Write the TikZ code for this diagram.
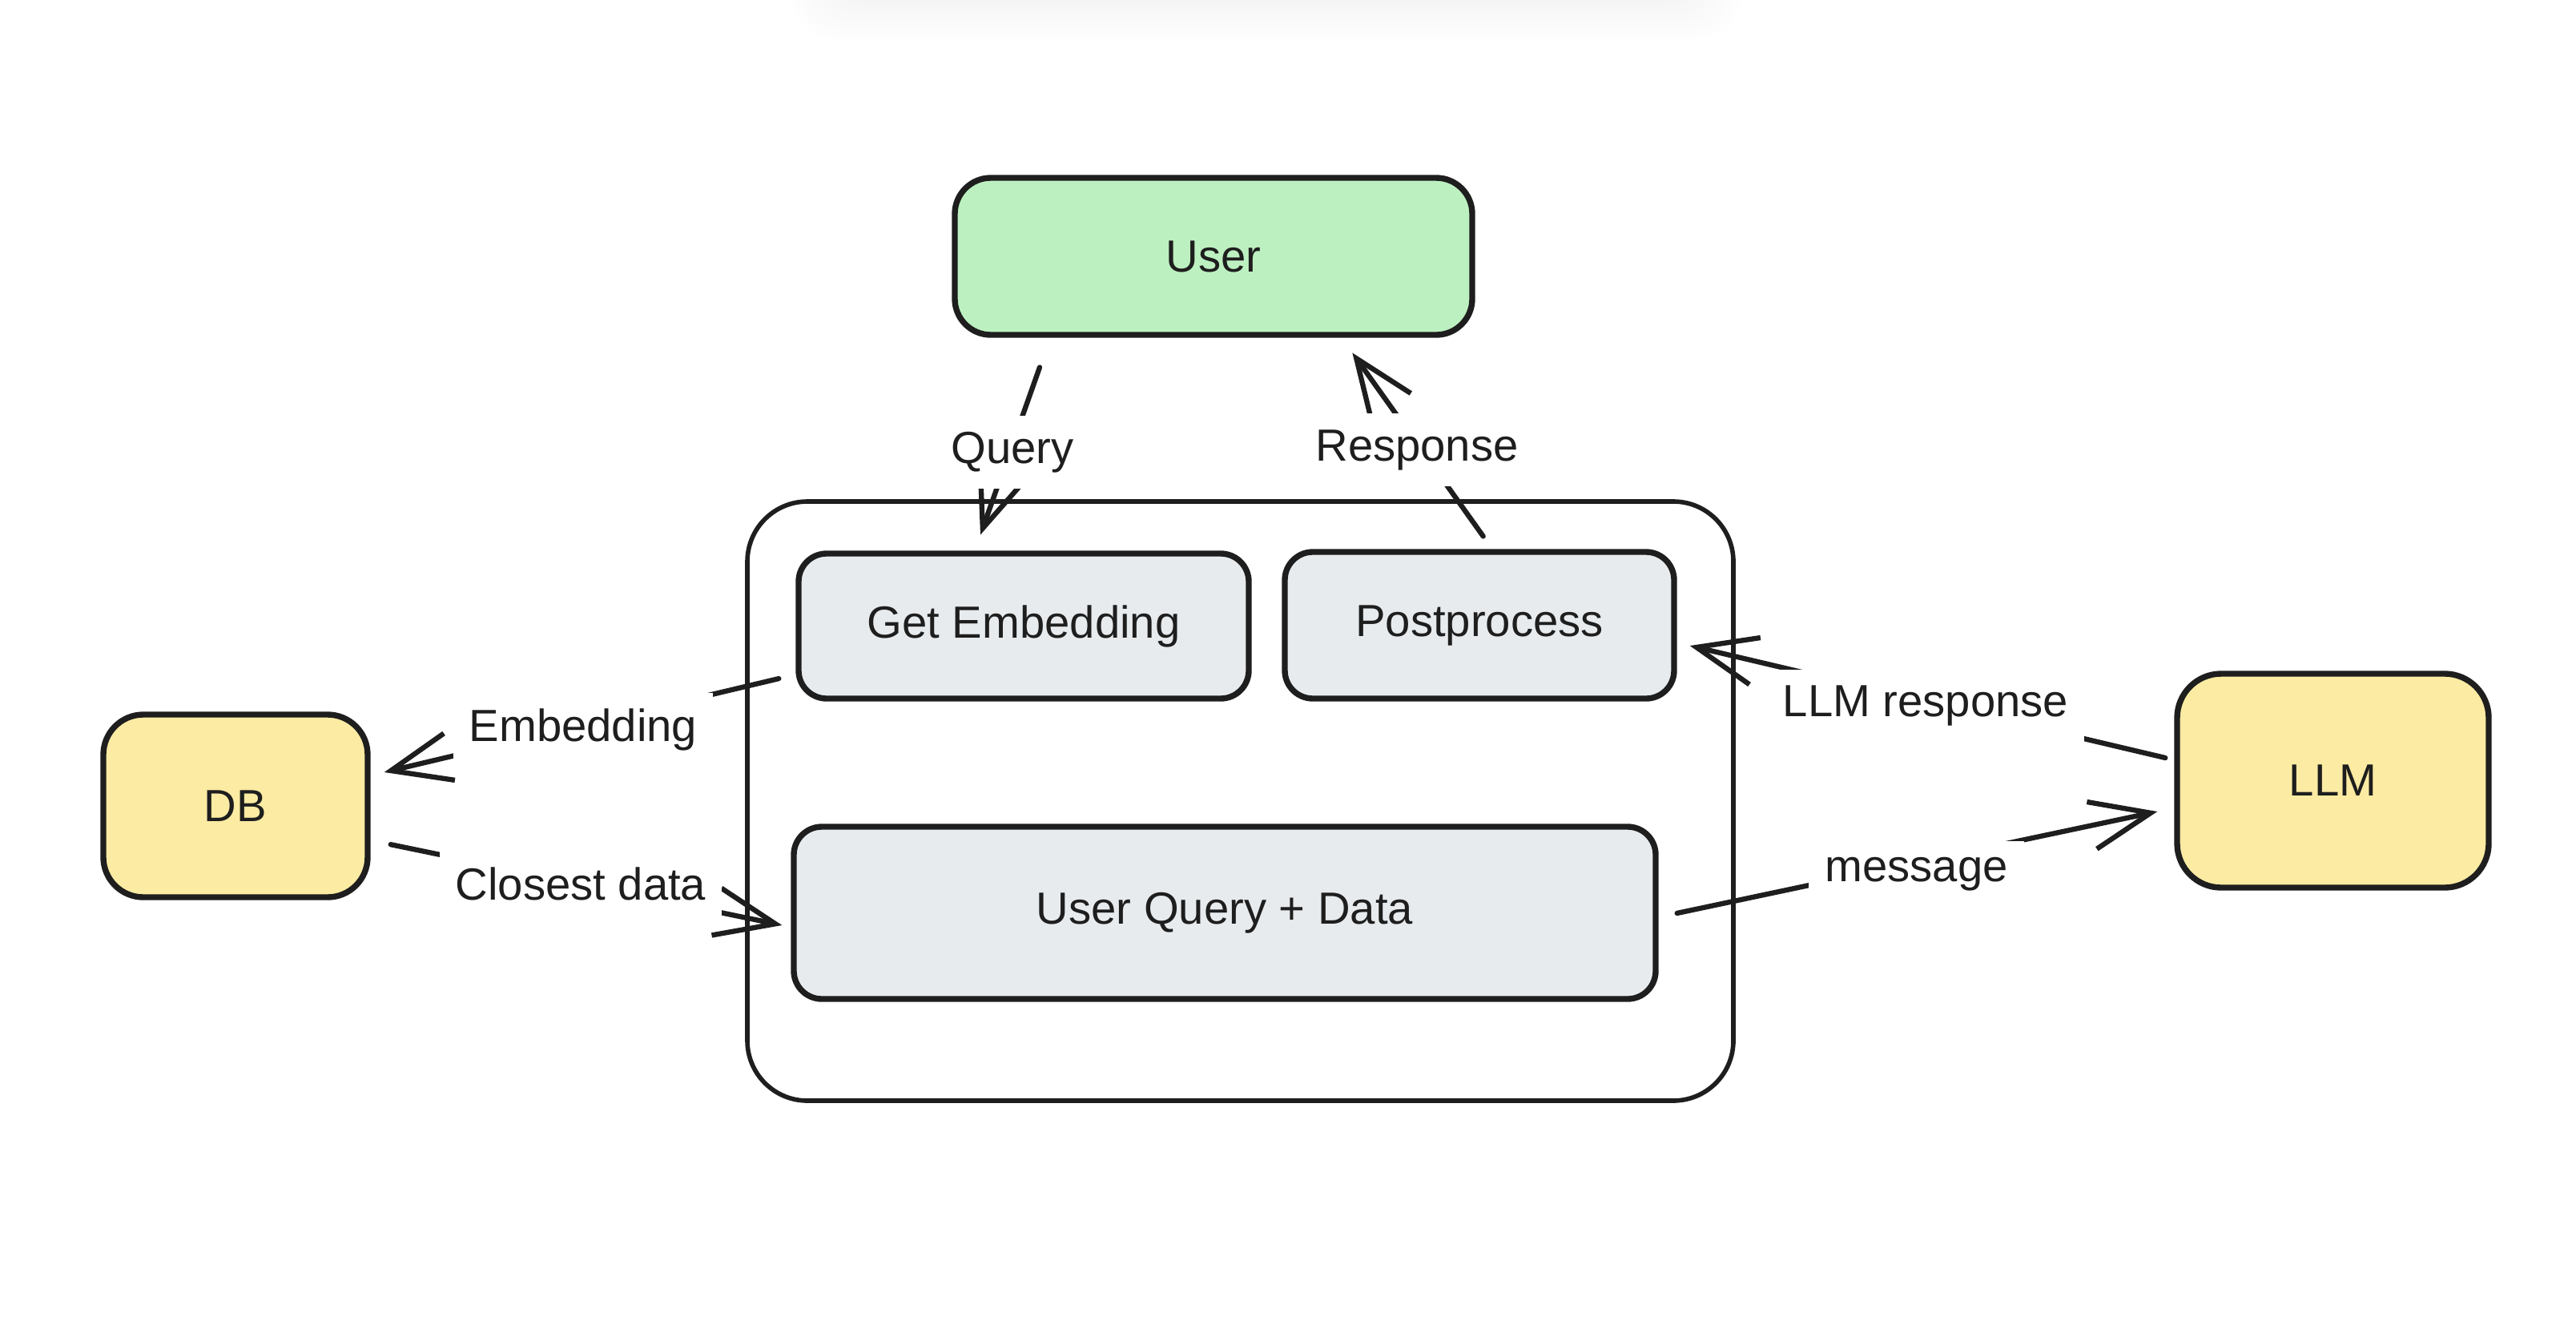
\documentclass[tikz,border=0pt]{standalone}
\usepackage{fontspec}
\setmainfont{Liberation Sans}
\usetikzlibrary{arrows.meta}
\definecolor{ink}{HTML}{1E1E1E}
\definecolor{usergreen}{HTML}{BDF0C0}
\definecolor{dbyellow}{HTML}{FBEBA3}
\definecolor{stepgray}{HTML}{E8EBEE}

\begin{document}
\begin{tikzpicture}[
    font=\fontsize{16}{19}\selectfont, text=ink,
    box/.style={draw=ink, line width=2.1pt, rounded corners=0.35cm, inner sep=0pt},
    arr/.style={draw=ink, line width=1.8pt, line cap=round, -{Straight Barb[length=0.75cm,width=0.6cm]}},
    lbl/.style={fill=white, inner sep=0.2cm}
  ]
    \useasboundingbox (0,0) rectangle (32.16,-16.48);
    % faint shadow along the top edge
    \begin{scope}
      \clip (0,0) rectangle (32.16,-16.48);
      \foreach \i in {0,...,9}
        \fill[black, fill opacity=0.004, rounded corners=0.6cm] (10.3-\i*0.05,1) rectangle (21.3+\i*0.05,-0.05-\i*0.05);
    \end{scope}
    \node[box, fill=usergreen, minimum width=6.46cm, minimum height=1.96cm, rounded corners=0.45cm] (user) at (15.15,-3.20) {User};
    \node[draw=ink, line width=1.6pt, rounded corners=0.75cm, minimum width=12.31cm, minimum height=7.48cm, fill=white] (rag) at (15.485,-10.00) {};
    \node[box, fill=stepgray, minimum width=5.62cm, minimum height=1.81cm] (getemb) at (12.78,-7.815) {Get Embedding};
    \node[box, fill=stepgray, minimum width=4.86cm, minimum height=1.83cm] (post) at (18.47,-7.805) {Postprocess};
    \node[box, fill=stepgray, minimum width=10.76cm, minimum height=2.15cm] (uqd) at (15.29,-11.395) {User Query + Data};
    \node[box, fill=dbyellow, minimum width=3.30cm, minimum height=2.28cm, rounded corners=0.5cm] (db) at (2.94,-10.06) {DB};
    \node[box, fill=dbyellow, minimum width=3.89cm, minimum height=2.67cm, rounded corners=0.55cm] (llm) at (29.125,-9.745) {LLM};
    \draw[arr, shorten <=0.39cm, shorten >=0.21cm] ([xshift=-2.04cm]user.south) -- node[lbl, yshift=-0.1cm]{Query} ([xshift=-0.61cm]getemb.north);
    \draw[arr, shorten <=0.195cm, shorten >=0.23cm] ([xshift=0.16cm]post.north) -- node[lbl, yshift=-0.08cm]{Response} ([xshift=1.60cm]user.south);
    \draw[arr, shorten <=0.216cm, shorten >=0.175cm] ([yshift=-0.606cm]getemb.west) -- node[lbl, yshift=-0.06cm]{Embedding} ([yshift=0.38cm]db.east);
    \draw[arr, shorten <=0.255cm, shorten >=0.112cm] ([yshift=-0.43cm]db.east) -- node[lbl]{Closest data} ([yshift=-0.177cm]uqd.west);
    \draw[arr, shorten <=0.113cm, shorten >=0.164cm] ([yshift=0.259cm]llm.west) -- node[lbl, yshift=-0.06cm]{LLM response} ([yshift=-0.218cm]post.east);
    \draw[arr, shorten <=0.235cm, shorten >=0.215cm] ([yshift=-0.053cm]uqd.east) -- node[lbl, yshift=-0.14cm]{message} ([yshift=-0.341cm]llm.west);
  \end{tikzpicture}
\end{document}
